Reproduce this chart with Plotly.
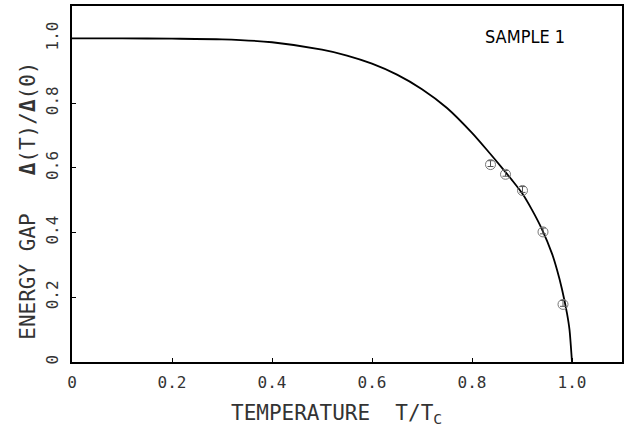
import plotly.graph_objects as go

# BCS-like theoretical curve
curve_t = [0.0, 0.1, 0.2, 0.3, 0.4, 0.5, 0.55, 0.6, 0.65, 0.7, 0.75, 0.8, 0.83,
           0.86, 0.88, 0.9, 0.92, 0.94, 0.96, 0.97, 0.98, 0.99, 0.995, 1.0]
curve_gap = [1.0, 1.0, 0.999, 0.997, 0.988, 0.965, 0.947, 0.922, 0.888, 0.843, 0.785,
             0.708, 0.655, 0.600, 0.562, 0.522, 0.470, 0.410, 0.335, 0.285, 0.225,
             0.150, 0.100, 0.0]

# measured points (Sample 1)
meas_t = [0.837, 0.867, 0.901, 0.942, 0.982]
meas_gap = [0.610, 0.580, 0.530, 0.402, 0.178]
err_up = [0.012, 0.012, 0.012, 0.012, 0.012]
err_down = [0.006, 0.006, 0.006, 0.006, 0.006]

tick_vals = [0, 0.2, 0.4, 0.6, 0.8, 1.0]
tick_text = ["0", "0.2", "0.4", "0.6", "0.8", "1.0"]

MONO = "DejaVu Sans Mono"
NARROW = "Liberation Sans Narrow, DejaVu Sans Condensed, Liberation Sans, sans-serif"

fig = go.Figure()
fig.add_trace(go.Scatter(
    x=curve_t, y=curve_gap, mode="lines",
    line=dict(color="black", width=1.8, shape="spline", smoothing=0.6),
    showlegend=False, hoverinfo="skip"))
fig.add_trace(go.Scatter(
    x=meas_t, y=meas_gap, mode="markers",
    marker=dict(symbol="circle-open", size=10, color="#777777",
                line=dict(color="#777777", width=1)),
    error_y=dict(type="data", symmetric=False, array=err_up, arrayminus=err_down,
                 color="#555555", thickness=1, width=3),
    showlegend=False))

axis_common = dict(
    tickvals=tick_vals, ticktext=tick_text, range=[0, 1.1],
    ticks="inside", ticklen=4, tickwidth=1, tickcolor="black",
    showline=True, linecolor="black", linewidth=1.5, mirror=True,
    showgrid=False, zeroline=False,
    tickfont=dict(family=MONO, size=16, color="#333333"),
)
fig.update_xaxes(**axis_common, ticklabelstandoff=5)
fig.update_yaxes(**axis_common, tickangle=-90, ticklabelstandoff=6)

fig.add_annotation(
    text="TEMPERATURE\u00a0\u00a0T/T<sub>C</sub>", xref="paper", yref="paper",
    x=0.48, y=0, yshift=-52, xanchor="center", yanchor="middle", showarrow=False,
    font=dict(family=MONO, size=21, color="#333333"))
fig.add_annotation(
    text="ENERGY\u00a0GAP\u00a0\u00a0\u00a0<b>Δ</b>(T)/<b>Δ</b>(0)", xref="paper", yref="paper",
    x=0, xshift=-44, y=0.453, xanchor="center", yanchor="middle", textangle=-90,
    showarrow=False, font=dict(family=MONO, size=21, color="#333333"))
fig.add_annotation(
    text="SAMPLE 1", xref="paper", yref="paper", x=0.823, y=0.914,
    xanchor="center", yanchor="middle", showarrow=False,
    font=dict(family=NARROW, size=18, color="black"))

fig.update_layout(
    width=628, height=431,
    margin=dict(l=72, r=5, t=4, b=69),
    paper_bgcolor="white", plot_bgcolor="white",
)

fig.write_html("out.html")
